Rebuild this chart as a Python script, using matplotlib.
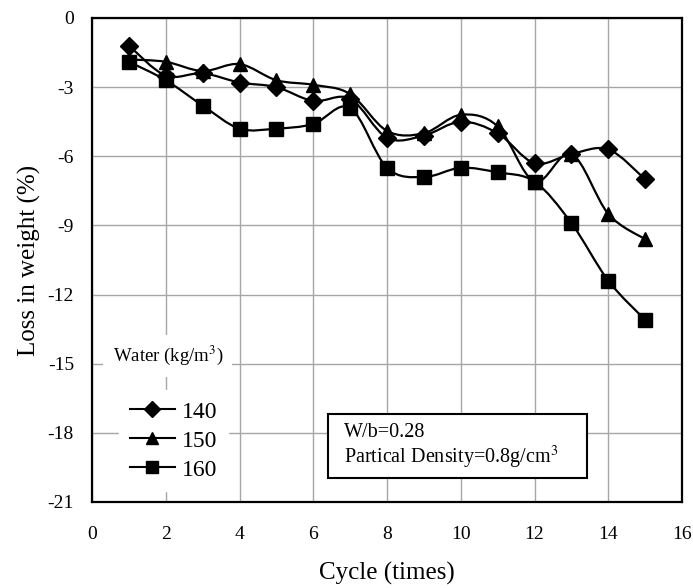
import numpy as np
import matplotlib
matplotlib.use("Agg")
import matplotlib.pyplot as plt
from matplotlib.path import Path
from matplotlib.patches import PathPatch, Rectangle
from matplotlib.lines import Line2D

# | ================= Data ================= |

cycles = [1, 2, 3, 4, 5, 6, 7, 8, 9, 10, 11, 12, 13, 14, 15]
w140 = [-1.2, -2.5, -2.4, -2.8, -3.0, -3.6, -3.5, -5.2, -5.1, -4.5, -5.0, -6.3, -5.9, -5.7, -7.0]
w150 = [-1.8, -1.9, -2.3, -2.0, -2.7, -2.9, -3.3, -4.9, -5.0, -4.2, -4.7, -7.1, -5.9, -8.5, -9.6]
w160 = [-1.9, -2.7, -3.8, -4.8, -4.8, -4.6, -3.9, -6.5, -6.9, -6.5, -6.7, -7.1, -8.9, -11.4, -13.1]

series = [("140", w140, "D", 9.5), ("150", w150, "^", 10), ("160", w160, "s", 9.5)]

plt.rcParams["font.family"] = ["Liberation Serif", "DejaVu Serif"]
plt.rcParams["mathtext.fontset"] = "stix"
plt.rcParams["axes.unicode_minus"] = False


def smooth_path(x, y):
    """Excel-like smoothed line: cubic Bezier segments through each point."""
    pts = np.column_stack([x, y]).astype(float)
    n = len(pts)
    verts = [pts[0]]
    codes = [Path.MOVETO]
    for i in range(n - 1):
        p0 = pts[i - 1] if i > 0 else pts[i]
        p1, p2 = pts[i], pts[i + 1]
        p3 = pts[i + 2] if i + 2 < n else pts[i + 1]
        c1 = p1 + (p2 - p0) / 6.0
        c2 = p2 - (p3 - p1) / 6.0
        verts += [c1, c2, p2]
        codes += [Path.CURVE4] * 3
    return Path(verts, codes)


fig = plt.figure(figsize=(6.93, 5.88), dpi=100)
ax = fig.add_axes([0.1328, 0.1463, 0.8514, 0.8231])

for name, vals, mk, ms in series:
    ax.add_patch(PathPatch(smooth_path(cycles, vals), facecolor="none",
                           edgecolor="black", linewidth=1.6, zorder=3))
    ax.plot(cycles, vals, linestyle="none", marker=mk, markersize=ms,
            color="black", zorder=4)

ax.set_xlim(0, 16)
ax.set_ylim(-21, 0)
ax.set_xticks(range(0, 17, 2))
ax.set_yticks(range(-21, 1, 3))
ax.grid(True, color="#a6a6a6", linewidth=1.0)
ax.set_axisbelow(True)
ax.tick_params(length=0, labelsize=14)
ax.tick_params(axis="x", pad=17)
ax.tick_params(axis="y", pad=13)
for s in ax.spines.values():
    s.set_linewidth(1.6)
    s.set_color("black")

ax.set_xlabel("Cycle (times)", fontsize=18, labelpad=14)
ax.set_ylabel("Loss in weight (%)", fontsize=18, labelpad=5)

# legend: title as separate white label, entries in a white frameless box
ax.text(0.56, -14.65, "Water (kg/m$^3$)", fontsize=13.5, ha="left", va="center",
        bbox=dict(boxstyle="square,pad=0.5", facecolor="white",
                  edgecolor="none"), zorder=5)

handles = [Line2D([0], [0], color="black", linewidth=1.5, marker=mk,
                  markersize=ms * 0.9, label=name)
           for name, vals, mk, ms in series]
leg = ax.legend(handles=handles, loc="lower left",
                bbox_to_anchor=(0.046, 0.022), borderaxespad=0,
                frameon=True, fontsize=17, handlelength=1.9,
                handletextpad=0.3, labelspacing=0.32, borderpad=0.45,
                fancybox=False)
leg.get_frame().set_edgecolor("white")
leg.get_frame().set_facecolor("white")
leg.get_frame().set_alpha(1.0)

# parameter box
ax.add_patch(Rectangle((0.40, 0.0496), 0.439, 0.132, transform=ax.transAxes,
                       facecolor="white", edgecolor="black", linewidth=1.5,
                       zorder=5))
ax.text(6.83, -18.6, "W/b=0.28\nPartical Density=0.8g/cm$^3$", fontsize=14.5,
        va="center", ha="left", linespacing=1.1, zorder=6)

fig.savefig("out.png", dpi=100, facecolor="white")
